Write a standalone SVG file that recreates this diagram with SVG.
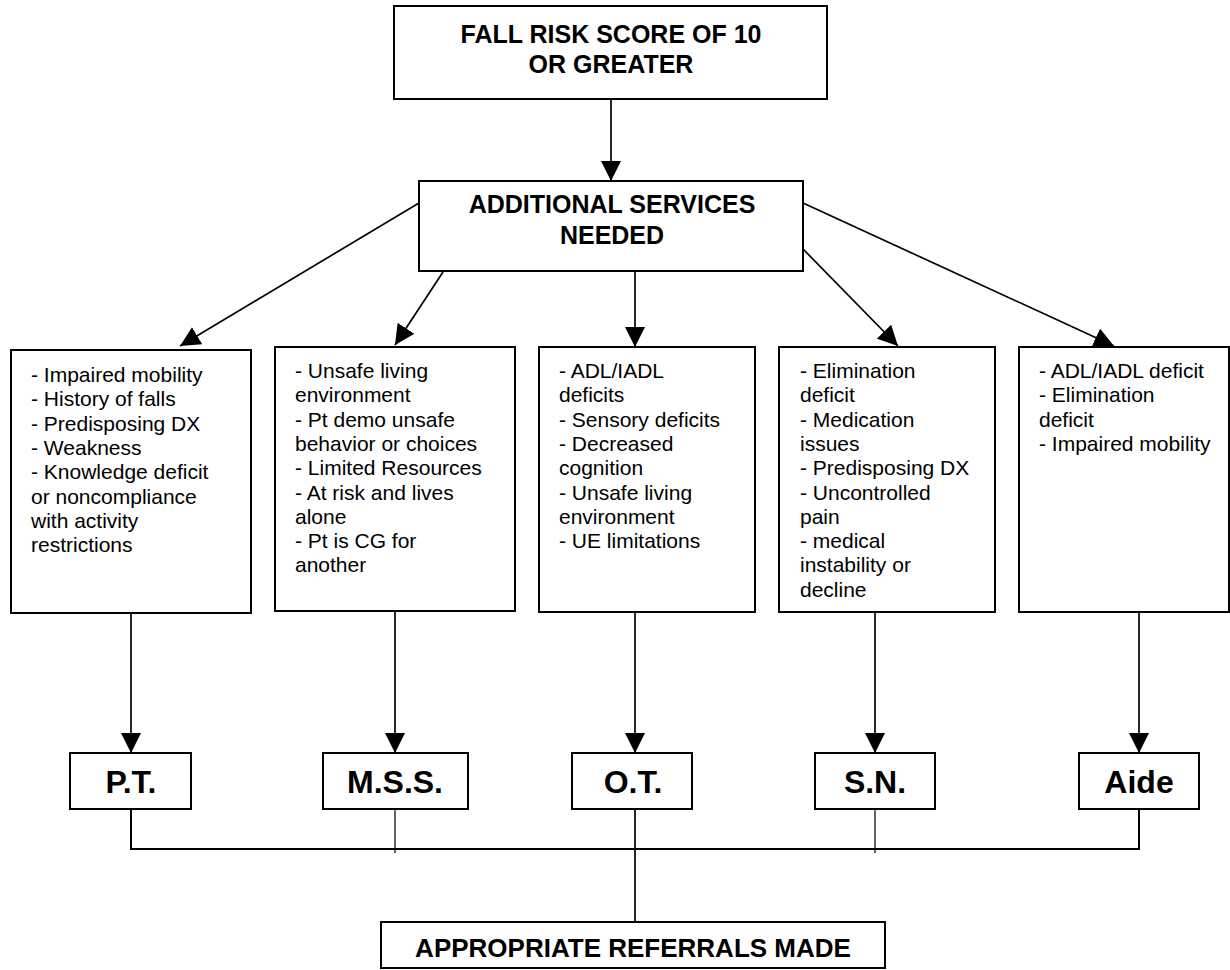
<svg xmlns="http://www.w3.org/2000/svg" width="1230" height="970" viewBox="0 0 1230 970">
<style>
  .box{fill:#fff;stroke:#000;stroke-width:2}
  .title{font-family:"Liberation Sans",Arial,sans-serif;font-weight:bold;font-size:25px;fill:#000;text-anchor:middle}
  .label{font-family:"Liberation Sans",Arial,sans-serif;font-weight:bold;font-size:32px;fill:#000;text-anchor:middle}
  .body{font-family:"Liberation Sans",Arial,sans-serif;font-size:21px;fill:#000}
  .conn{stroke:#000;stroke-width:1.7;fill:none}
  .thin{stroke:#000;stroke-width:1.2;fill:none}
</style>
<defs>
  <marker id="arrow" markerUnits="userSpaceOnUse" markerWidth="20" markerHeight="20" refX="20" refY="10" orient="auto" viewBox="0 0 20 20">
    <path d="M0,0 L20,10 L0,20 z" fill="#000"/>
  </marker>
</defs>
<rect width="1230" height="970" fill="#fff"/>

<g id="connectors">
  <line class="conn" x1="611" y1="99" x2="611" y2="181" marker-end="url(#arrow)"/>
  <line class="conn" x1="419" y1="203" x2="180" y2="346" marker-end="url(#arrow)"/>
  <line class="conn" x1="443" y1="272" x2="395" y2="345" marker-end="url(#arrow)"/>
  <line class="conn" x1="635" y1="271" x2="635" y2="347" marker-end="url(#arrow)"/>
  <line class="conn" x1="803" y1="249" x2="898" y2="346" marker-end="url(#arrow)"/>
  <line class="conn" x1="803" y1="203" x2="1114" y2="346" marker-end="url(#arrow)"/>

  <line class="conn" x1="131" y1="613" x2="131" y2="753" marker-end="url(#arrow)"/>
  <line class="conn" x1="395" y1="606" x2="395" y2="753" marker-end="url(#arrow)"/>
  <line class="conn" x1="635" y1="609" x2="635" y2="753" marker-end="url(#arrow)"/>
  <line class="conn" x1="875" y1="612" x2="875" y2="753" marker-end="url(#arrow)"/>
  <line class="conn" x1="1139" y1="612" x2="1139" y2="753" marker-end="url(#arrow)"/>

  <polyline class="conn" points="131,809 131,849 1139,849 1139,809" style="stroke-width:2"/>
  <line class="thin" x1="395" y1="800" x2="395" y2="853"/>
  <line class="thin" x1="875" y1="806" x2="875" y2="853"/>
  <line class="conn" x1="635" y1="806" x2="635" y2="922"/>
</g>

<g id="n-fallrisk">
  <rect class="box" x="394" y="6" width="433" height="93"/>
  <text class="title" x="611" y="43">FALL RISK SCORE OF 10</text>
  <text class="title" x="611" y="73">OR GREATER</text>
</g>

<g id="n-additional">
  <rect class="box" x="419" y="181" width="384" height="90"/>
  <text class="title" x="612" y="213">ADDITIONAL SERVICES</text>
  <text class="title" x="612" y="244">NEEDED</text>
</g>

<g id="n-pt-criteria">
  <rect class="box" x="11" y="350" width="240" height="263"/>
  <text class="body">
    <tspan x="31" y="382">- Impaired mobility</tspan>
    <tspan x="31" y="406.3">- History of falls</tspan>
    <tspan x="31" y="430.6">- Predisposing DX</tspan>
    <tspan x="31" y="454.9">- Weakness</tspan>
    <tspan x="31" y="479.2">- Knowledge deficit</tspan>
    <tspan x="31" y="503.5">or noncompliance</tspan>
    <tspan x="31" y="527.8">with activity</tspan>
    <tspan x="31" y="552.1">restrictions</tspan>
  </text>
</g>

<g id="n-mss-criteria">
  <rect class="box" x="275" y="347" width="240" height="264"/>
  <text class="body">
    <tspan x="295" y="378">- Unsafe living</tspan>
    <tspan x="295" y="402.3">environment</tspan>
    <tspan x="295" y="426.6">- Pt demo unsafe</tspan>
    <tspan x="295" y="450.9">behavior or choices</tspan>
    <tspan x="295" y="475.2">- Limited Resources</tspan>
    <tspan x="295" y="499.5">- At risk and lives</tspan>
    <tspan x="295" y="523.8">alone</tspan>
    <tspan x="295" y="548.1">- Pt is CG for</tspan>
    <tspan x="295" y="572.4">another</tspan>
  </text>
</g>

<g id="n-ot-criteria">
  <rect class="box" x="539" y="347" width="216" height="265"/>
  <text class="body">
    <tspan x="559" y="378">- ADL/IADL</tspan>
    <tspan x="559" y="402.3">deficits</tspan>
    <tspan x="559" y="426.6">- Sensory deficits</tspan>
    <tspan x="559" y="450.9">- Decreased</tspan>
    <tspan x="559" y="475.2">cognition</tspan>
    <tspan x="559" y="499.5">- Unsafe living</tspan>
    <tspan x="559" y="523.8">environment</tspan>
    <tspan x="559" y="548.1">- UE limitations</tspan>
  </text>
</g>

<g id="n-sn-criteria">
  <rect class="box" x="779" y="347" width="216" height="265"/>
  <text class="body">
    <tspan x="800" y="378">- Elimination</tspan>
    <tspan x="800" y="402.3">deficit</tspan>
    <tspan x="800" y="426.6">- Medication</tspan>
    <tspan x="800" y="450.9">issues</tspan>
    <tspan x="800" y="475.2">- Predisposing DX</tspan>
    <tspan x="800" y="499.5">- Uncontrolled</tspan>
    <tspan x="800" y="523.8">pain</tspan>
    <tspan x="800" y="548.1">- medical</tspan>
    <tspan x="800" y="572.4">instability or</tspan>
    <tspan x="800" y="596.7">decline</tspan>
  </text>
</g>

<g id="n-aide-criteria">
  <rect class="box" x="1019" y="347" width="210" height="265"/>
  <text class="body">
    <tspan x="1039" y="378">- ADL/IADL deficit</tspan>
    <tspan x="1039" y="402.3">- Elimination</tspan>
    <tspan x="1039" y="426.6">deficit</tspan>
    <tspan x="1039" y="450.9">- Impaired mobility</tspan>
  </text>
</g>

<g id="n-pt">
  <rect class="box" x="70" y="753" width="121" height="56"/>
  <text class="label" x="131" y="793">P.T.</text>
</g>
<g id="n-mss">
  <rect class="box" x="323" y="753" width="145" height="56"/>
  <text class="label" x="395" y="793">M.S.S.</text>
</g>
<g id="n-ot">
  <rect class="box" x="572" y="753" width="120" height="56"/>
  <text class="label" x="633" y="793">O.T.</text>
</g>
<g id="n-sn">
  <rect class="box" x="815" y="753" width="120" height="56"/>
  <text class="label" x="875" y="793">S.N.</text>
</g>
<g id="n-aide">
  <rect class="box" x="1079" y="753" width="120" height="56"/>
  <text class="label" x="1139" y="793">Aide</text>
</g>

<g id="n-referrals">
  <rect class="box" x="381" y="922" width="504" height="46"/>
  <text class="title" x="633" y="957" style="font-size:26px">APPROPRIATE REFERRALS MADE</text>
</g>
</svg>
